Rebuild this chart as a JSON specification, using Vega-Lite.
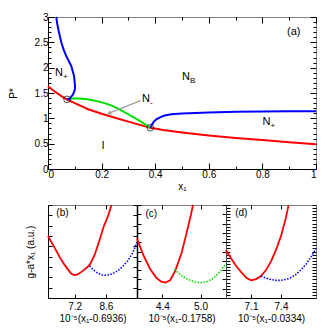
{
"$schema": "https://vega.github.io/schema/vega-lite/v6.json",
"padding": {"left": 7, "top": 11, "right": 0, "bottom": 0},
"spacing": 36,
"bounds": "flush",
"config": {
  "font": "Liberation Sans",
  "view": {"stroke": "#808080", "strokeWidth": 1},
  "axis": {"labelFont": "Liberation Sans", "titleFont": "Liberation Sans", "labelFontSize": 10, "titleFontSize": 10, "titleFontWeight": "normal", "grid": false, "domainColor": "black", "tickColor": "black", "labelColor": "black", "titleColor": "black", "domainWidth": 1, "minExtent": 0},
  "axisX": {"minExtent": 0},
  "axisY": {"minExtent": 0}
},
"datasets": {
  "topLines": [
    {"s":"red","o":0,"x":0,"y":1.63},{"s":"red","o":1,"x":0.025,"y":1.53},{"s":"red","o":2,"x":0.05,"y":1.44},{"s":"red","o":3,"x":0.071,"y":1.37},{"s":"red","o":4,"x":0.1,"y":1.3},{"s":"red","o":5,"x":0.15,"y":1.18},{"s":"red","o":6,"x":0.2,"y":1.09},{"s":"red","o":7,"x":0.25,"y":1.01},{"s":"red","o":8,"x":0.3,"y":0.935},{"s":"red","o":9,"x":0.336,"y":0.88},{"s":"red","o":10,"x":0.382,"y":0.815},{"s":"red","o":11,"x":0.43,"y":0.77},{"s":"red","o":12,"x":0.5,"y":0.72},{"s":"red","o":13,"x":0.6,"y":0.66},{"s":"red","o":14,"x":0.7,"y":0.61},{"s":"red","o":15,"x":0.8,"y":0.57},{"s":"red","o":16,"x":0.9,"y":0.53},{"s":"red","o":17,"x":1.0,"y":0.49},
    {"s":"green","o":0,"x":0.071,"y":1.375},{"s":"green","o":1,"x":0.09,"y":1.39},{"s":"green","o":2,"x":0.112,"y":1.39},{"s":"green","o":3,"x":0.14,"y":1.38},{"s":"green","o":4,"x":0.162,"y":1.36},{"s":"green","o":5,"x":0.19,"y":1.33},{"s":"green","o":6,"x":0.211,"y":1.3},{"s":"green","o":7,"x":0.24,"y":1.245},{"s":"green","o":8,"x":0.261,"y":1.19},{"s":"green","o":9,"x":0.29,"y":1.11},{"s":"green","o":10,"x":0.311,"y":1.045},{"s":"green","o":11,"x":0.33,"y":0.99},{"s":"green","o":12,"x":0.348,"y":0.93},{"s":"green","o":13,"x":0.365,"y":0.87},{"s":"green","o":14,"x":0.382,"y":0.815},
    {"s":"blueL","o":0,"x":0.071,"y":1.375},{"s":"blueL","o":1,"x":0.081,"y":1.39},{"s":"blueL","o":2,"x":0.093,"y":1.47},{"s":"blueL","o":3,"x":0.1,"y":1.56},{"s":"blueL","o":4,"x":0.101,"y":1.64},{"s":"blueL","o":5,"x":0.097,"y":1.84},{"s":"blueL","o":6,"x":0.087,"y":2.03},{"s":"blueL","o":7,"x":0.068,"y":2.23},{"s":"blueL","o":8,"x":0.058,"y":2.36},{"s":"blueL","o":9,"x":0.05,"y":2.49},{"s":"blueL","o":10,"x":0.04,"y":2.72},{"s":"blueL","o":11,"x":0.034,"y":2.88},{"s":"blueL","o":12,"x":0.031,"y":3.0},
    {"s":"blueR","o":0,"x":0.382,"y":0.815},{"s":"blueR","o":1,"x":0.386,"y":0.86},{"s":"blueR","o":2,"x":0.393,"y":0.92},{"s":"blueR","o":3,"x":0.404,"y":0.98},{"s":"blueR","o":4,"x":0.42,"y":1.025},{"s":"blueR","o":5,"x":0.435,"y":1.055},{"s":"blueR","o":6,"x":0.46,"y":1.08},{"s":"blueR","o":7,"x":0.5,"y":1.095},{"s":"blueR","o":8,"x":0.55,"y":1.105},{"s":"blueR","o":9,"x":0.6,"y":1.115},{"s":"blueR","o":10,"x":0.7,"y":1.128},{"s":"blueR","o":11,"x":0.8,"y":1.135},{"s":"blueR","o":12,"x":0.9,"y":1.14},{"s":"blueR","o":13,"x":1.0,"y":1.142}
  ],
  "circles": [{"x":0.071,"y":1.375},{"x":0.382,"y":0.815}],
  "topLabels": [
    {"t":"N","sub":"+","x":0.026,"y":1.9},
    {"t":"N","sub":"B","x":0.5,"y":1.82},
    {"t":"N","sub":"+","x":0.8,"y":0.92},
    {"t":"N","sub":"-","x":0.351,"y":1.38},
    {"t":"I","sub":"","x":0.2,"y":0.45},
    {"t":"(a)","sub":"","x":0.892,"y":2.7}
  ],
  "arrow": [{"x":0.345,"y":1.35,"x2":0.228,"y2":1.1}],
  "bottom": [
    {"p":"b","s":"main","x":6.0,"y":6.0},{"p":"b","s":"main","x":6.1,"y":5.6},{"p":"b","s":"main","x":6.3,"y":4.85},{"p":"b","s":"main","x":6.5,"y":4.05},{"p":"b","s":"main","x":6.7,"y":3.35},{"p":"b","s":"main","x":6.9,"y":2.75},{"p":"b","s":"main","x":7.05,"y":2.35},{"p":"b","s":"main","x":7.2,"y":2.2},{"p":"b","s":"main","x":7.35,"y":2.3},{"p":"b","s":"main","x":7.55,"y":2.6},{"p":"b","s":"main","x":7.75,"y":2.95},{"p":"b","s":"main","x":7.9,"y":3.3},{"p":"b","s":"main","x":8.1,"y":4.2},{"p":"b","s":"main","x":8.3,"y":5.5},{"p":"b","s":"main","x":8.5,"y":6.9},{"p":"b","s":"main","x":8.7,"y":7.95},{"p":"b","s":"main","x":8.85,"y":9.0},
    {"p":"b","s":"alt","x":7.87,"y":3.1},{"p":"b","s":"alt","x":8.0,"y":2.8},{"p":"b","s":"alt","x":8.2,"y":2.45},{"p":"b","s":"alt","x":8.4,"y":2.25},{"p":"b","s":"alt","x":8.6,"y":2.2},{"p":"b","s":"alt","x":8.8,"y":2.27},{"p":"b","s":"alt","x":9.0,"y":2.45},{"p":"b","s":"alt","x":9.2,"y":2.75},{"p":"b","s":"alt","x":9.4,"y":3.15},{"p":"b","s":"alt","x":9.6,"y":3.65},{"p":"b","s":"alt","x":9.8,"y":4.35},{"p":"b","s":"alt","x":10.0,"y":5.4},
    {"p":"c","s":"main","x":4.0,"y":6.4},{"p":"c","s":"main","x":4.05,"y":5.5},{"p":"c","s":"main","x":4.1,"y":4.6},{"p":"c","s":"main","x":4.2,"y":3.2},{"p":"c","s":"main","x":4.3,"y":2.2},{"p":"c","s":"main","x":4.38,"y":1.75},{"p":"c","s":"main","x":4.45,"y":1.65},{"p":"c","s":"main","x":4.52,"y":1.9},{"p":"c","s":"main","x":4.6,"y":2.9},{"p":"c","s":"main","x":4.7,"y":4.8},{"p":"c","s":"main","x":4.78,"y":7.0},{"p":"c","s":"main","x":4.85,"y":9.0},{"p":"c","s":"main","x":4.88,"y":10.0},
    {"p":"c","s":"alt","x":4.59,"y":3.09},{"p":"c","s":"alt","x":4.65,"y":2.7},{"p":"c","s":"alt","x":4.7,"y":2.4},{"p":"c","s":"alt","x":4.8,"y":2.0},{"p":"c","s":"alt","x":4.9,"y":1.75},{"p":"c","s":"alt","x":5.0,"y":1.65},{"p":"c","s":"alt","x":5.1,"y":1.75},{"p":"c","s":"alt","x":5.2,"y":2.1},{"p":"c","s":"alt","x":5.3,"y":2.8},{"p":"c","s":"alt","x":5.4,"y":3.7},
    {"p":"d","s":"main","x":6.85,"y":15.5},{"p":"d","s":"main","x":6.9,"y":12.8},{"p":"d","s":"main","x":6.95,"y":10.4},{"p":"d","s":"main","x":7.0,"y":8.4},{"p":"d","s":"main","x":7.05,"y":6.6},{"p":"d","s":"main","x":7.1,"y":5.7},{"p":"d","s":"main","x":7.15,"y":6.1},{"p":"d","s":"main","x":7.2,"y":7.1},{"p":"d","s":"main","x":7.25,"y":9.0},{"p":"d","s":"main","x":7.3,"y":11.8},{"p":"d","s":"main","x":7.35,"y":15.5},{"p":"d","s":"main","x":7.4,"y":20.0},{"p":"d","s":"main","x":7.45,"y":26.0},{"p":"d","s":"main","x":7.475,"y":29.9},
    {"p":"d","s":"alt","x":7.2,"y":7.1},{"p":"d","s":"alt","x":7.25,"y":6.4},{"p":"d","s":"alt","x":7.3,"y":5.95},{"p":"d","s":"alt","x":7.35,"y":5.7},{"p":"d","s":"alt","x":7.4,"y":5.7},{"p":"d","s":"alt","x":7.45,"y":6.0},{"p":"d","s":"alt","x":7.5,"y":6.6},{"p":"d","s":"alt","x":7.55,"y":7.6},{"p":"d","s":"alt","x":7.6,"y":9.1},{"p":"d","s":"alt","x":7.65,"y":10.9},{"p":"d","s":"alt","x":7.7,"y":13.2},{"p":"d","s":"alt","x":7.75,"y":16.0}
  ],
  "bottomLabels": [
    {"p":"b","t":"(b)","x":6.65,"y":8.2},
    {"p":"c","t":"(c)","x":4.225,"y":9.0},
    {"p":"d","t":"(d)","x":7.003,"y":27.3}
  ]
},
"vconcat": [
  {
    "width": 268, "height": 152,
    "layer": [
      {
        "data": {"name": "topLines"},
        "mark": {"type": "line", "strokeWidth": 2},
        "encoding": {
          "x": {"field": "x", "type": "quantitative", "scale": {"domain": [0, 1], "nice": false, "zero": false},
            "axis": {"orient": "bottom", "title": "x₁", "values": [0,0.1,0.2,0.3,0.4,0.5,0.6,0.7,0.8,0.9,1], "labelExpr": "abs(datum.value*5-round(datum.value*5))<0.001 ? format(datum.value,'~g') : ''", "tickSize": {"condition": {"test": "abs(datum.value*5-round(datum.value*5))<0.001", "value": -6}, "value": -3}, "labelPadding": 6, "titlePadding": 2}},
          "y": {"field": "y", "type": "quantitative", "scale": {"domain": [0, 3], "nice": false, "zero": false},
            "axis": {"orient": "left", "title": "P*", "values": [0,0.1,0.2,0.3,0.4,0.5,0.6,0.7,0.8,0.9,1,1.1,1.2,1.3,1.4,1.5,1.6,1.7,1.8,1.9,2,2.1,2.2,2.3,2.4,2.5,2.6,2.7,2.8,2.9,3], "labelExpr": "abs(datum.value*2-round(datum.value*2))<0.001 ? format(datum.value,'~g') : ''", "tickSize": {"condition": {"test": "abs(datum.value*2-round(datum.value*2))<0.001", "value": -6}, "value": -3}, "labelPadding": 6, "titlePadding": 16}},
          "color": {"field": "s", "type": "nominal", "scale": {"domain": ["red", "green", "blueL", "blueR"], "range": ["#ff0000", "#00e000", "#0000ff", "#0000ff"]}, "legend": null},
          "order": {"field": "o", "type": "quantitative"}
        }
      },
      {
        "data": {"name": "circles"},
        "mark": {"type": "point", "shape": "circle", "size": 45, "stroke": "black", "strokeWidth": 1, "filled": false},
        "encoding": {
          "x": {"field": "x", "type": "quantitative", "axis": {"orient": "top", "title": null, "labels": false, "domain": false, "values": [0,0.1,0.2,0.3,0.4,0.5,0.6,0.7,0.8,0.9,1], "tickSize": {"condition": {"test": "abs(datum.value*5-round(datum.value*5))<0.001", "value": -6}, "value": -3}}},
          "y": {"field": "y", "type": "quantitative", "axis": {"orient": "right", "title": null, "labels": false, "domain": false, "values": [0,0.1,0.2,0.3,0.4,0.5,0.6,0.7,0.8,0.9,1,1.1,1.2,1.3,1.4,1.5,1.6,1.7,1.8,1.9,2,2.1,2.2,2.3,2.4,2.5,2.6,2.7,2.8,2.9,3], "tickSize": {"condition": {"test": "abs(datum.value*2-round(datum.value*2))<0.001", "value": -6}, "value": -3}}}
        }
      },
      {
        "data": {"name": "arrow"},
        "mark": {"type": "rule", "color": "#999999", "strokeWidth": 1.2},
        "encoding": {
          "x": {"field": "x", "type": "quantitative", "axis": null},
          "y": {"field": "y", "type": "quantitative", "axis": null},
          "x2": {"field": "x2"},
          "y2": {"field": "y2"}
        }
      },
      {
        "data": {"name": "arrow"},
        "mark": {"type": "point", "shape": "triangle-up", "size": 22, "filled": true, "color": "#999999", "opacity": 1, "angle": 247},
        "encoding": {
          "x": {"field": "x2", "type": "quantitative", "axis": null},
          "y": {"field": "y2", "type": "quantitative", "axis": null}
        }
      },
      {
        "data": {"name": "topLabels"},
        "mark": {"type": "text", "align": "left", "baseline": "middle", "fontSize": 11, "font": "Liberation Sans", "color": "black"},
        "encoding": {
          "x": {"field": "x", "type": "quantitative", "axis": null},
          "y": {"field": "y", "type": "quantitative", "axis": null},
          "text": {"field": "t"}
        }
      },
      {
        "data": {"name": "topLabels"},
        "mark": {"type": "text", "align": "left", "baseline": "middle", "fontSize": 8, "dx": 8, "dy": 4, "font": "Liberation Sans", "color": "black"},
        "encoding": {
          "x": {"field": "x", "type": "quantitative", "axis": null},
          "y": {"field": "y", "type": "quantitative", "axis": null},
          "text": {"field": "sub"}
        }
      }
    ],
    "resolve": {"axis": {"x": "independent", "y": "independent"}}
  },
  {
    "spacing": 0,
    "bounds": "flush",
    "hconcat": [
      {
        "width": 89, "height": 93,
        "layer": [
          {
            "data": {"name": "bottom"},
            "transform": [{"filter": "datum.p === 'b' && datum.s === 'main'"}],
            "mark": {"type": "line", "color": "#ff0000", "strokeWidth": 1.8},
            "encoding": {
              "x": {"field": "x", "type": "quantitative", "scale": {"domain": [6, 10], "nice": false, "zero": false}, "axis": {"orient": "bottom", "values": [7.2, 8.6], "format": ".1f", "title": "10⁻⁵(x₁-0.6936)", "tickSize": -4, "labelPadding": 7, "titlePadding": 2}},
              "y": {"field": "y", "type": "quantitative", "scale": {"domain": [0, 9], "nice": false, "zero": false}, "axis": {"orient": "left", "values": [0,1,2,3,4,5,6,7,8,9], "labels": false, "title": "g-a*x₁ (a.u.)", "tickSize": -4, "titlePadding": 12}}
            }
          },
          {
            "data": {"name": "bottom"},
            "transform": [{"filter": "datum.p === 'b' && datum.s === 'alt'"}],
            "mark": {"type": "line", "color": "#0000ff", "strokeWidth": 1.6, "strokeDash": [1.5, 1.5]},
            "encoding": {
              "x": {"field": "x", "type": "quantitative", "axis": {"orient": "top", "values": [7.2, 8.6], "labels": false, "domain": false, "title": null, "tickSize": -4}},
              "y": {"field": "y", "type": "quantitative", "axis": {"orient": "right", "values": [0,1,2,3,4,5,6,7,8,9], "labels": false, "domain": false, "title": null, "tickSize": -4}}
            }
          },
          {
            "data": {"name": "bottomLabels"},
            "transform": [{"filter": "datum.p === 'b'"}],
            "mark": {"type": "text", "fontSize": 10, "font": "Liberation Sans", "color": "black"},
            "encoding": {
              "x": {"field": "x", "type": "quantitative", "axis": null},
              "y": {"field": "y", "type": "quantitative", "axis": null},
              "text": {"field": "t"}
            }
          }
        ],
        "resolve": {"axis": {"x": "independent", "y": "independent"}}
      },
      {
        "width": 89, "height": 93,
        "layer": [
          {
            "data": {"name": "bottom"},
            "transform": [{"filter": "datum.p === 'c' && datum.s === 'main'"}],
            "mark": {"type": "line", "color": "#ff0000", "strokeWidth": 1.8},
            "encoding": {
              "x": {"field": "x", "type": "quantitative", "scale": {"domain": [4.0, 5.4], "nice": false, "zero": false}, "axis": {"orient": "bottom", "values": [4.4, 5.0], "format": ".1f", "title": "10⁻⁵(x₁-0.1758)", "tickSize": -4, "labelPadding": 7, "titlePadding": 2}},
              "y": {"field": "y", "type": "quantitative", "scale": {"domain": [0, 10], "nice": false, "zero": false}, "axis": {"orient": "left", "values": [0,1,2,3,4,5,6,7,8,9,10], "labels": false, "title": null, "tickSize": -4, "domainWidth": 1.5}}
            }
          },
          {
            "data": {"name": "bottom"},
            "transform": [{"filter": "datum.p === 'c' && datum.s === 'alt'"}],
            "mark": {"type": "line", "color": "#00e000", "strokeWidth": 1.6, "strokeDash": [1.5, 1.5]},
            "encoding": {
              "x": {"field": "x", "type": "quantitative", "axis": {"orient": "top", "values": [4.4, 5.0], "labels": false, "domain": false, "title": null, "tickSize": -4}},
              "y": {"field": "y", "type": "quantitative", "axis": {"orient": "right", "values": [0,1,2,3,4,5,6,7,8,9,10], "labels": false, "domain": false, "title": null, "tickSize": -4}}
            }
          },
          {
            "data": {"name": "bottomLabels"},
            "transform": [{"filter": "datum.p === 'c'"}],
            "mark": {"type": "text", "fontSize": 10, "font": "Liberation Sans", "color": "black"},
            "encoding": {
              "x": {"field": "x", "type": "quantitative", "axis": null},
              "y": {"field": "y", "type": "quantitative", "axis": null},
              "text": {"field": "t"}
            }
          }
        ],
        "resolve": {"axis": {"x": "independent", "y": "independent"}}
      },
      {
        "width": 90, "height": 93,
        "layer": [
          {
            "data": {"name": "bottom"},
            "transform": [{"filter": "datum.p === 'd' && datum.s === 'main'"}],
            "mark": {"type": "line", "color": "#ff0000", "strokeWidth": 1.8},
            "encoding": {
              "x": {"field": "x", "type": "quantitative", "scale": {"domain": [6.85, 7.75], "nice": false, "zero": false}, "axis": {"orient": "bottom", "values": [7.1, 7.4], "format": ".1f", "title": "10⁻⁵(x₁-0.0334)", "tickSize": -4, "labelPadding": 7, "titlePadding": 2}},
              "y": {"field": "y", "type": "quantitative", "scale": {"domain": [0, 30], "nice": false, "zero": false}, "axis": {"orient": "left", "values": [0,1,2,3,4,5,6,7,8,9,10,11,12,13,14,15,16,17,18,19,20,21,22,23,24,25,26,27,28,29,30], "labels": false, "title": null, "tickSize": -4, "domainColor": "#444444"}}
            }
          },
          {
            "data": {"name": "bottom"},
            "transform": [{"filter": "datum.p === 'd' && datum.s === 'alt'"}],
            "mark": {"type": "line", "color": "#0000ff", "strokeWidth": 1.6, "strokeDash": [1.5, 1.5]},
            "encoding": {
              "x": {"field": "x", "type": "quantitative", "axis": {"orient": "top", "values": [7.1, 7.4], "labels": false, "domain": false, "title": null, "tickSize": -4}},
              "y": {"field": "y", "type": "quantitative", "axis": {"orient": "right", "values": [0,1,2,3,4,5,6,7,8,9,10,11,12,13,14,15,16,17,18,19,20,21,22,23,24,25,26,27,28,29,30], "labels": false, "domain": false, "title": null, "tickSize": -4}}
            }
          },
          {
            "data": {"name": "bottomLabels"},
            "transform": [{"filter": "datum.p === 'd'"}],
            "mark": {"type": "text", "fontSize": 10, "font": "Liberation Sans", "color": "black"},
            "encoding": {
              "x": {"field": "x", "type": "quantitative", "axis": null},
              "y": {"field": "y", "type": "quantitative", "axis": null},
              "text": {"field": "t"}
            }
          }
        ],
        "resolve": {"axis": {"x": "independent", "y": "independent"}}
      }
    ]
  }
]
}
